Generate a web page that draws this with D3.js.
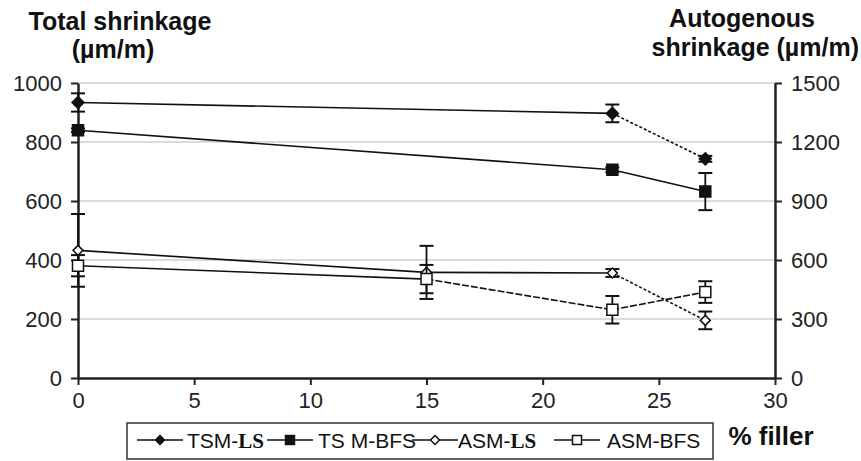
<!DOCTYPE html>
<html>
<head>
<meta charset="utf-8">
<script src="https://cdn.jsdelivr.net/npm/d3@7"></script>
<style>
  body { margin: 0; background: #fff; }
  svg { display: block; font-family: "Liberation Sans", Arial, sans-serif; }
</style>
</head>
<body>
<div id="chart"></div>
<script>
// data
const tsmX = [0, 23, 27];
const tsmLS = [934, 897, 743];
const tsmLSErr = [31, 30, 10];
const tsmBFS = [840, 706, 632];
const tsmBFSErr = [6, 8, 63];

const asmX = [0, 15, 23, 27];
const asmLS = [649, 537, 534, 293];
const asmLSErr = [185, 135, 20, 45];
const asmBFS = [571, 503, 347, 437];
const asmBFSErr = [54, 72, 70, 55];

const xTicks = [0, 5, 10, 15, 20, 25, 30];
const leftTicks = [0, 200, 400, 600, 800, 1000];
const rightTicks = [0, 300, 600, 900, 1200, 1500];

const width = 861, height = 461;
const x = d3.scaleLinear().domain([0, 30]).range([78, 775]);
const yL = d3.scaleLinear().domain([0, 1000]).range([378, 83]);
const yR = d3.scaleLinear().domain([0, 1500]).range([378, 83]);

const series = [
  { name: "TSM-LS", xs: tsmX, ys: tsmLS, err: tsmLSErr, y: yL, marker: "diamond", fill: "#111", dash: [null, "3,2"] },
  { name: "TS M-BFS", xs: tsmX, ys: tsmBFS, err: tsmBFSErr, y: yL, marker: "square", fill: "#111", dash: [null, null] },
  { name: "ASM-LS", xs: asmX, ys: asmLS, err: asmLSErr, y: yR, marker: "diamond", fill: "#fff", dash: [null, null, "3,2"] },
  { name: "ASM-BFS", xs: asmX, ys: asmBFS, err: asmBFSErr, y: yR, marker: "square", fill: "#fff", dash: [null, "7,2", "7,2"] }
];

const svg = d3.select("#chart").append("svg")
  .attr("width", width)
  .attr("height", height);

// grid
svg.append("g")
  .selectAll("line")
  .data(leftTicks.slice(1))
  .join("line")
  .attr("x1", x(0)).attr("x2", x(30))
  .attr("y1", d => yL(d)).attr("y2", d => yL(d))
  .attr("stroke", "#cfcfcf")
  .attr("stroke-width", 1.5);

function styleAxis(g) {
  g.selectAll(".domain").attr("stroke", "#222").attr("stroke-width", 2.5);
  g.selectAll(".tick line").attr("stroke", "#222").attr("stroke-width", 2);
  g.selectAll(".tick text").attr("font-size", 22).attr("fill", "#222")
    .attr("font-family", "'Liberation Sans', Arial, sans-serif");
}

const fmt = d3.format("d");

svg.append("g")
  .attr("transform", `translate(0,${yL(0)})`)
  .call(d3.axisBottom(x).tickValues(xTicks).tickFormat(fmt).tickSize(7).tickPadding(7).tickSizeOuter(0))
  .call(styleAxis);

svg.append("g")
  .attr("transform", `translate(${x(0)},0)`)
  .call(d3.axisLeft(yL).tickValues(leftTicks).tickFormat(fmt).tickSize(7).tickPadding(9).tickSizeOuter(0))
  .call(styleAxis)
  .call(g => g.selectAll(".tick text").attr("dy", "0.36em"));

svg.append("g")
  .attr("transform", `translate(${x(30)},0)`)
  .call(d3.axisRight(yR).tickValues(rightTicks).tickFormat(fmt).tickSize(7).tickPadding(9).tickSizeOuter(0))
  .call(styleAxis)
  .call(g => g.selectAll(".tick text").attr("dy", "0.36em"));

function markerPath(type, s) {
  if (type === "diamond") return `M0,${-s}L${s},0L0,${s}L${-s},0Z`;
  return `M${-s},${-s}H${s}V${s}H${-s}Z`;
}

for (const s of series) {
  const pts = s.xs.map((v, i) => ({ x: v, y: s.ys[i], e: s.err[i] }));
  const g = svg.append("g");

  // line segments
  g.selectAll("line.seg")
    .data(pts.slice(1).map((p, i) => ({ a: pts[i], b: p, dash: s.dash[i] })))
    .join("line")
    .attr("x1", d => x(d.a.x)).attr("y1", d => s.y(d.a.y))
    .attr("x2", d => x(d.b.x)).attr("y2", d => s.y(d.b.y))
    .attr("stroke", "#111")
    .attr("stroke-width", 1.6)
    .attr("stroke-dasharray", d => d.dash);

  // error bars
  const eb = g.selectAll("g.err").data(pts).join("g");
  eb.append("line")
    .attr("x1", d => x(d.x)).attr("x2", d => x(d.x))
    .attr("y1", d => s.y(d.y - d.e)).attr("y2", d => s.y(d.y + d.e))
    .attr("stroke", "#111").attr("stroke-width", 1.8);
  for (const sign of [-1, 1]) {
    eb.append("line")
      .attr("x1", d => x(d.x) - 7).attr("x2", d => x(d.x) + 7)
      .attr("y1", d => s.y(d.y + sign * d.e)).attr("y2", d => s.y(d.y + sign * d.e))
      .attr("stroke", "#111").attr("stroke-width", 2);
  }

  // markers
  const size = s.marker === "diamond" ? (s.fill === "#fff" ? 5 : 6) : 5.5;
  g.selectAll("path.mk")
    .data(pts)
    .join("path")
    .attr("transform", d => `translate(${x(d.x)},${s.y(d.y)})`)
    .attr("d", markerPath(s.marker, size))
    .attr("fill", s.fill)
    .attr("stroke", "#111")
    .attr("stroke-width", 1.5);
}

// axis titles
const title = svg.append("g")
  .attr("font-weight", "bold")
  .attr("font-size", 25)
  .attr("fill", "#111");
title.append("text").attr("x", 120).attr("y", 30).attr("text-anchor", "middle").text("Total shrinkage");
title.append("text").attr("x", 113).attr("y", 58).attr("text-anchor", "middle").text("(µm/m)");
title.append("text").attr("x", 742).attr("y", 27).attr("text-anchor", "middle").text("Autogenous");
title.append("text").attr("x", 859).attr("y", 56).attr("text-anchor", "end").text("shrinkage (µm/m)");
title.append("text").attr("x", 771).attr("y", 445).attr("text-anchor", "middle").attr("font-size", 26).text("% filler");

// legend
const legendPos = [
  { sym: 160, text: 187 },
  { sym: 290, text: 318 },
  { sym: 435, text: 458 },
  { sym: 577, text: 607 }
];
const legend = svg.append("g");
legend.append("rect")
  .attr("x", 127).attr("y", 423).attr("width", 586).attr("height", 36)
  .attr("fill", "#fff").attr("stroke", "#333").attr("stroke-width", 1.5);

series.forEach((s, i) => {
  const p = legendPos[i];
  const cy = 440;
  legend.append("line")
    .attr("x1", p.sym - 23).attr("x2", p.sym + 23)
    .attr("y1", cy).attr("y2", cy)
    .attr("stroke", "#111").attr("stroke-width", 1.6);
  legend.append("path")
    .attr("transform", `translate(${p.sym},${cy})`)
    .attr("d", markerPath(s.marker, 4.5))
    .attr("fill", s.fill).attr("stroke", "#111").attr("stroke-width", 1.5);
  const t = legend.append("text")
    .attr("x", p.text).attr("y", 448)
    .attr("font-size", 21).attr("fill", "#111");
  if (s.name.endsWith("-LS")) {
    t.append("tspan").text(s.name.replace("LS", ""));
    t.append("tspan")
      .attr("font-family", "'Liberation Serif', 'Times New Roman', serif")
      .attr("font-weight", "bold")
      .text("LS");
  } else {
    t.text(s.name);
  }
});
</script>
</body>
</html>
